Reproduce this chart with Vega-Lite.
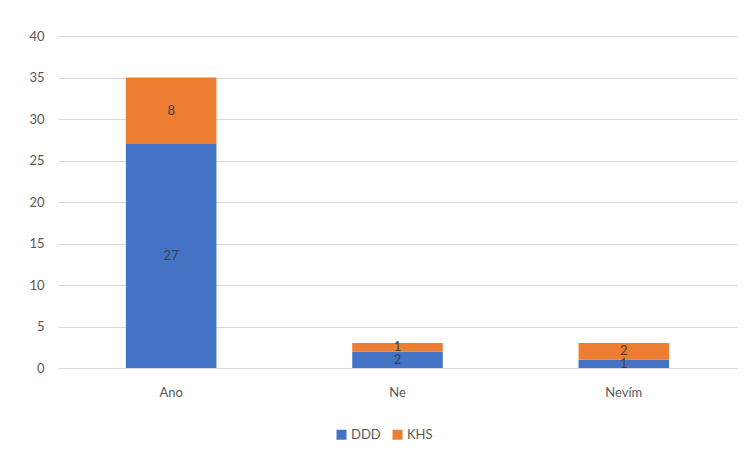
{
  "$schema": "https://vega.github.io/schema/vega-lite/v6.json",
  "width": 679,
  "height": 332,
  "padding": {"left": 28, "top": 30, "right": 14, "bottom": 5},
  "background": "white",
  "config": {"view": {"stroke": null}, "font": "Lato"},
  "data": {"values": [
    {"cat": "Ano", "series": "DDD", "value": 27, "ord": 1},
    {"cat": "Ano", "series": "KHS", "value": 8, "ord": 2},
    {"cat": "Ne", "series": "DDD", "value": 2, "ord": 1},
    {"cat": "Ne", "series": "KHS", "value": 1, "ord": 2},
    {"cat": "Nevím", "series": "DDD", "value": 1, "ord": 1},
    {"cat": "Nevím", "series": "KHS", "value": 2, "ord": 2}
  ]},
  "encoding": {
    "x": {"field": "cat", "type": "nominal", "sort": ["Ano", "Ne", "Nevím"],
      "scale": {"paddingInner": 0.6, "paddingOuter": 0.3},
      "axis": {"title": null, "labelAngle": 0, "domain": false, "ticks": false, "labelPadding": 18, "labelFontSize": 13, "labelColor": "#595959"}},
    "order": {"field": "ord", "type": "quantitative"}
  },
  "layer": [
    {
      "mark": {"type": "bar"},
      "encoding": {
        "y": {"field": "value", "type": "quantitative", "stack": "zero", "scale": {"domain": [0, 40]},
          "axis": {"title": null, "values": [0, 5, 10, 15, 20, 25, 30, 35, 40], "domain": false, "ticks": false, "labelPadding": 14, "gridColor": "#d9d9d9", "labelColor": "#595959", "labelFontSize": 13}},
        "color": {"field": "series", "type": "nominal", "scale": {"domain": ["DDD", "KHS"], "range": ["#4472C4", "#ED7D31"]},
          "legend": {"orient": "none", "legendX": 277, "legendY": 392, "title": null, "symbolType": "square", "direction": "horizontal", "symbolSize": 100, "labelFontSize": 13, "labelColor": "#595959", "symbolStrokeWidth": 0, "labelOffset": 3, "columnPadding": 10}}
      }
    },
    {
      "mark": {"type": "text", "color": "#404040", "fontSize": 13},
      "encoding": {
        "y": {"field": "value", "type": "quantitative", "stack": "zero", "bandPosition": 0.5},
        "detail": {"field": "series", "type": "nominal"},
        "text": {"field": "value", "type": "quantitative"}
      }
    }
  ]
}
